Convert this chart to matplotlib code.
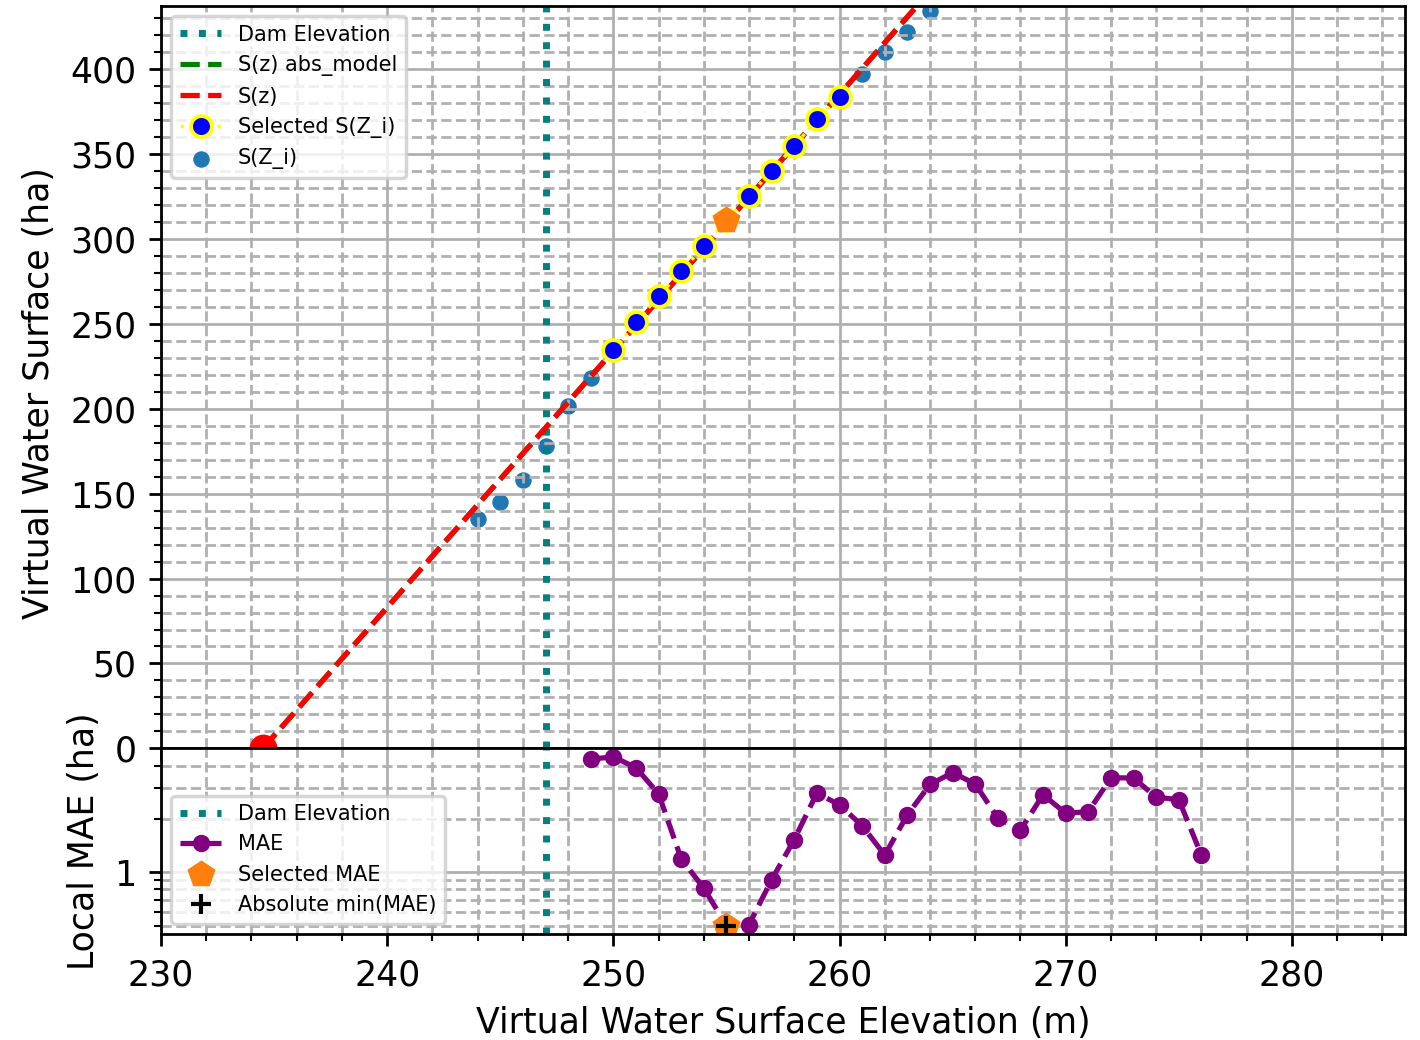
import numpy as np
import matplotlib.pyplot as plt
from matplotlib.ticker import MultipleLocator, AutoMinorLocator, FuncFormatter, NullFormatter

# elevation of the dam crest (m)
dam_z = 247.0

# fitted surface curve S(z)
model_z = [234.5, 250.0, 260.0, 265.0]
model_s = [0.0, 234.0, 385.0, 461.0]

# lowest point of the curve (zero surface)
z0 = 234.5
s0 = 0.0

# surfaces computed at each virtual elevation
zi = [244, 245, 246, 247, 248, 249, 250, 251, 252, 253, 254, 255,
      256, 257, 258, 259, 260, 261, 262, 263, 264]
si = [134.9, 144.9, 157.8, 177.9, 201.6, 218.2, 234.4, 250.9, 266.2, 280.9, 295.6, 311.1,
      325.3, 340.0, 354.5, 370.4, 383.6, 397.0, 410.0, 421.7, 434.0]

# points kept for the fit
sel_z = [250, 251, 252, 253, 254, 255, 256, 257, 258, 259, 260]
sel_s = [234.4, 250.9, 266.2, 280.9, 295.6, 311.1, 325.3, 340.0, 354.5, 370.4, 383.6]

# local mean absolute error per centre elevation
mae_z = [249, 250, 251, 252, 253, 254, 255, 256, 257, 258, 259, 260, 261, 262,
         263, 264, 265, 266, 267, 268, 269, 270, 271, 272, 273, 274, 275, 276]
mae = [4.35, 4.48, 3.89, 2.77, 1.19, 0.813, 0.50, 0.507, 0.908, 1.53, 2.80, 2.40, 1.83, 1.25,
       2.11, 3.13, 3.65, 3.15, 2.02, 1.73, 2.74, 2.15, 2.20, 3.41, 3.41, 2.65, 2.57, 1.25]

# selected centre
best_z = 255
best_s = 311.1
best_mae = 0.50


def main():
    fig, (ax1, ax2) = plt.subplots(2, 1, sharex=True, figsize=(5.68, 4.16), dpi=250,
                                   gridspec_kw={'height_ratios': [4, 1], 'hspace': 0})
    fig.subplots_adjust(left=0.1134, right=0.9894, top=0.9942, bottom=0.1019)

    # Surface vs elevation
    ax1.axvline(dam_z, color='teal', linestyle=':', linewidth=2, label='Dam Elevation')
    ax1.plot(model_z, model_s, color='green', linestyle='--', linewidth=1.5, label='S(z) abs_model')
    ax1.plot(model_z, model_s, color='red', linestyle='--', linewidth=1.5, label='S(z)')
    ax1.plot(sel_z, sel_s, 'o:', color='yellow', markerfacecolor='blue', markeredgecolor='yellow',
             markersize=6, markeredgewidth=1.1, linewidth=1, label='Selected S(Z_i)')
    ax1.scatter(zi, si, s=14, color='tab:blue', label='S(Z_i)')
    ax1.plot([best_z], [best_s], 'p', color='tab:orange', markersize=7, zorder=5)
    ax1.plot([z0], [s0], 'o', color='red', markersize=7, zorder=5)

    ax1.set_ylim(0, 437)
    ax1.set_ylabel('Virtual Water Surface (ha)')
    ax1.yaxis.set_label_coords(-0.0844, 0.478)
    ax1.yaxis.set_major_locator(MultipleLocator(50))
    ax1.yaxis.set_minor_locator(AutoMinorLocator(5))
    ax1.grid(True, which='major', linestyle='-')
    ax1.grid(True, which='minor', linestyle='--')
    ax1.legend(loc='upper left', fontsize=6)

    # Local MAE (log scale)
    ax2.axvline(dam_z, color='teal', linestyle=':', linewidth=2, label='Dam Elevation')
    ax2.plot(mae_z, mae, 'o--', color='purple', markersize=4, linewidth=1.5, label='MAE')
    ax2.plot([best_z], [best_mae], 'p', color='tab:orange', markersize=7, label='Selected MAE')
    ax2.plot([best_z], [best_mae], '+', color='black', markersize=6, markeredgewidth=1.2,
             label='Absolute min(MAE)')
    ax2.set_yscale('log')
    ax2.yaxis.set_major_formatter(FuncFormatter(lambda v, pos: f'{v:g}'))
    ax2.yaxis.set_minor_formatter(NullFormatter())
    ax2.set_ylabel('Local MAE (ha)')
    ax2.grid(True, which='major', linestyle='-')
    ax2.grid(True, which='minor', linestyle='--')
    ax2.legend(loc='lower left', fontsize=6)

    ax2.set_xlim(230, 285)
    ax2.xaxis.set_major_locator(MultipleLocator(10))
    ax2.xaxis.set_minor_locator(AutoMinorLocator(5))
    ax2.set_xlabel('Virtual Water Surface Elevation (m)')

    plt.savefig('out.png')


if __name__ == '__main__':
    main()
